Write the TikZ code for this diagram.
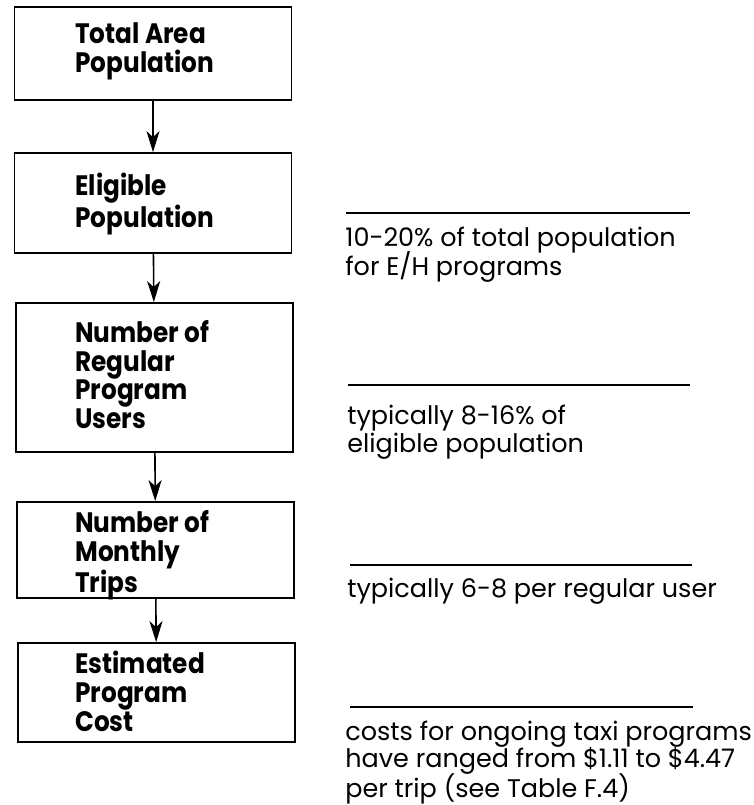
\documentclass[tikz,border=0pt]{standalone}
\usepackage{fontspec}
\setmainfont{Poppins}
\newfontfamily\stepfont[FakeStretch=0.88]{Poppins}
\usetikzlibrary{arrows.meta}

\begin{document}
\begin{tikzpicture}[x=1cm,y=1cm]
\tikzset{
  stepbox/.style={draw, line width=1pt, minimum width=5.54cm, inner sep=0pt},
  boxlabel/.style={anchor=north west, inner sep=0pt, align=left,
    font=\stepfont\fontsize{16}{16.3}\selectfont\bfseries},
  notelabel/.style={anchor=north west, inner sep=0pt, align=left,
    font=\fontsize{14.5}{15.7}\selectfont},
  flow/.style={line width=0.9pt, -{Stealth[length=0.42cm,width=0.26cm,inset=0.12cm]}}
}
\useasboundingbox (0,0) rectangle (15.06,-16.1);

% the five steps of the estimate
\node[stepbox, minimum height=1.86cm] (total) at (3.06,-1.07) {};
\node[stepbox, minimum height=2.0cm] (eligible) at (3.06,-4.06) {};
\node[stepbox, minimum height=2.98cm] (users) at (3.09,-7.55) {};
\node[stepbox, minimum height=1.92cm] (trips) at (3.11,-11.0) {};
\node[stepbox, minimum height=1.98cm] (cost) at (3.13,-13.85) {};

\node[boxlabel] (totaltxt) at (1.5,-0.45) {Total Area\\Population};
\node[boxlabel] (eligibletxt) at (1.5,-3.45) {Eligible\\Population};
\node[boxlabel] (userstxt) at (1.5,-6.4) {Number of\\Regular\\Program\\Users};
\node[boxlabel] (tripstxt) at (1.5,-10.2) {Number of\\Monthly\\Trips};
\node[boxlabel] (costtxt) at (1.5,-13.02) {Estimated\\Program\\Cost};

\draw[flow] (total) -- (eligible);
\draw[flow] (eligible) -- (users);
\draw[flow] (users) -- (trips);
\draw[flow] (trips) -- (cost);

% rules and the rates beside them
\draw[line width=0.7pt] (6.92,-4.26) -- (13.8,-4.26);
\draw[line width=0.7pt] (6.96,-7.7) -- (13.8,-7.7);
\draw[line width=0.7pt] (7.0,-11.3) -- (13.84,-11.3);
\draw[line width=0.7pt] (7.0,-14.14) -- (13.86,-14.14);

\node[notelabel] (rate1) at (6.9,-4.53) {10-20\% of total population\\[-2pt]for E/H programs};
\node[notelabel] (rate2) at (6.94,-8.1) {typically 8-16\% of\\eligible population};
\node[notelabel] (rate3) at (6.94,-11.55) {typically 6-8 per regular user};
\node[notelabel] (rate4) at (6.9,-14.42) {costs for ongoing taxi programs\\[-0.6pt]have ranged from \$1.11 to \$4.47\\[-1.2pt]per trip (see Table F.4)};
\end{tikzpicture}
\end{document}
